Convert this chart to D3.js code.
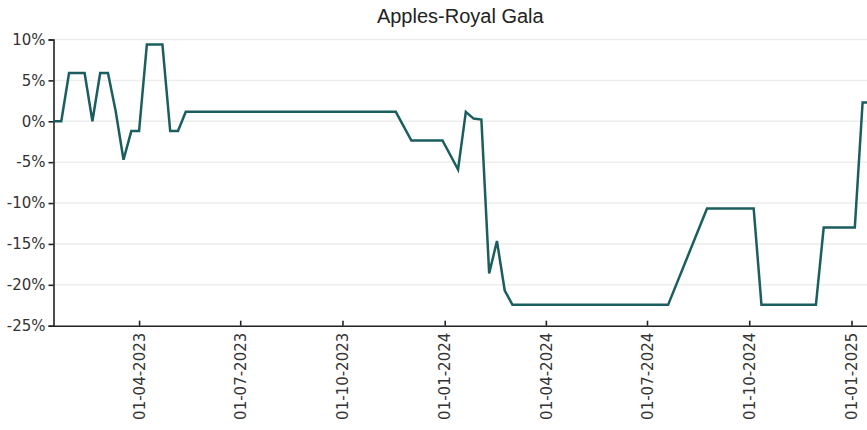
<html>
<head>
<script src="https://d3js.org/d3.v7.min.js"></script>
<style>
    body { margin: 0; background: #fff; }
    .tick text { fill: #333; }
</style>
</head>
<body>
<svg id="chart"></svg>
<script>

// weekly observations (only the points where the line turns)
var dates = ["2023-01-14","2023-01-21","2023-01-28","2023-02-11","2023-02-18","2023-02-25","2023-03-04",
             "2023-03-11","2023-03-18","2023-03-25","2023-04-01","2023-04-08","2023-04-22","2023-04-29",
             "2023-05-06","2023-05-13","2023-11-18","2023-12-02","2023-12-30","2024-01-13","2024-01-20",
             "2024-01-27","2024-02-03","2024-02-10","2024-02-17","2024-02-24","2024-03-02","2024-07-20",
             "2024-08-24","2024-10-05","2024-10-12","2024-11-30","2024-12-07","2025-01-04","2025-01-11",
             "2025-01-18"];
var values = [0, 0, 5.9, 5.9, 0, 5.9, 5.9,
              1.2, -4.7, -1.2, -1.2, 9.4, 9.4, -1.2,
              -1.2, 1.15, 1.15, -2.35, -2.35, -5.9, 1.15,
              0.33, 0.2, -18.6, -14.65, -20.7, -22.45, -22.45,
              -10.67, -10.67, -22.45, -22.45, -13.0, -13.0, 2.3,
              2.3];
var yTicks = [10, 5, 0, -5, -10, -15, -20, -25];
var xTicks = ["2023-04-01","2023-07-01","2023-10-01","2024-01-01","2024-04-01","2024-07-01","2024-10-01","2025-01-01"];
var title = "Apples-Royal Gala";

var parse = d3.timeParse("%Y-%m-%d");
var data = dates.map(function(d, i) { return {date: parse(d), value: values[i]}; });

var width = 867;
var height = 430;
var plotLeft = 53.5, plotTop = 39.5, plotBottom = 325.7;
var tickFont = "'DejaVu Sans', sans-serif";

var svg = d3.select("#chart")
    .attr("width", width)
    .attr("height", height);

//scales
var xScale = d3.scaleTime()
    .domain([parse("2023-01-14"), parse("2025-01-18")])
    .range([plotLeft, plotLeft + 735 * 1.1114]);

var yScale = d3.scaleLinear()
    .domain([-25, 10])
    .range([plotBottom, plotTop]);

//gridlines
svg.append("g")
    .selectAll("line")
    .data(yTicks.filter(function(t) { return t > -25; }))
    .enter()
    .append("line")
    .attr("x1", plotLeft)
    .attr("x2", width)
    .attr("y1", function(t) { return yScale(t); })
    .attr("y2", function(t) { return yScale(t); })
    .attr("stroke", "#ededed")
    .attr("stroke-width", 1.5);

//title
svg.append("text")
    .attr("x", (plotLeft + width) / 2)
    .attr("y", 23)
    .attr("text-anchor", "middle")
    .style("font-family", "'Liberation Sans', Arial, sans-serif")
    .style("font-size", "20px")
    .attr("fill", "#222")
    .text(title);

//y axis
var yAxis = svg.append("g")
    .attr("transform", "translate(" + plotLeft + ",0)")
    .call(d3.axisLeft(yScale)
        .tickValues(yTicks)
        .tickSize(5)
        .tickPadding(3)
        .tickFormat(function(t) { return t + "%"; }));
yAxis.selectAll("text")
    .style("font-family", tickFont)
    .style("font-size", "15px");

//x axis
var xAxis = svg.append("g")
    .attr("transform", "translate(0," + plotBottom + ")")
    .call(d3.axisBottom(xScale)
        .tickValues(xTicks.map(parse))
        .tickSizeInner(-5)
        .tickSizeOuter(0)
        .tickFormat(d3.timeFormat("%d-%m-%Y")));
xAxis.selectAll("text")
    .attr("transform", "rotate(-90)")
    .attr("x", -7)
    .attr("y", 0)
    .attr("dy", "0.35em")
    .style("text-anchor", "end")
    .style("font-family", tickFont)
    .style("font-size", "15px");

svg.selectAll(".domain").attr("stroke", "#222").attr("stroke-width", 1.6);
svg.selectAll(".tick line").attr("stroke", "#222").attr("stroke-width", 1.6);

//line
var line = d3.line()
    .x(function(d) { return xScale(d.date); })
    .y(function(d) { return yScale(d.value); });

svg.append("path")
    .datum(data)
    .attr("d", line)
    .attr("fill", "none")
    .attr("stroke", "#1b5e5f")
    .attr("stroke-width", 2.5)
    .attr("stroke-linejoin", "miter");

</script>
</body>
</html>
